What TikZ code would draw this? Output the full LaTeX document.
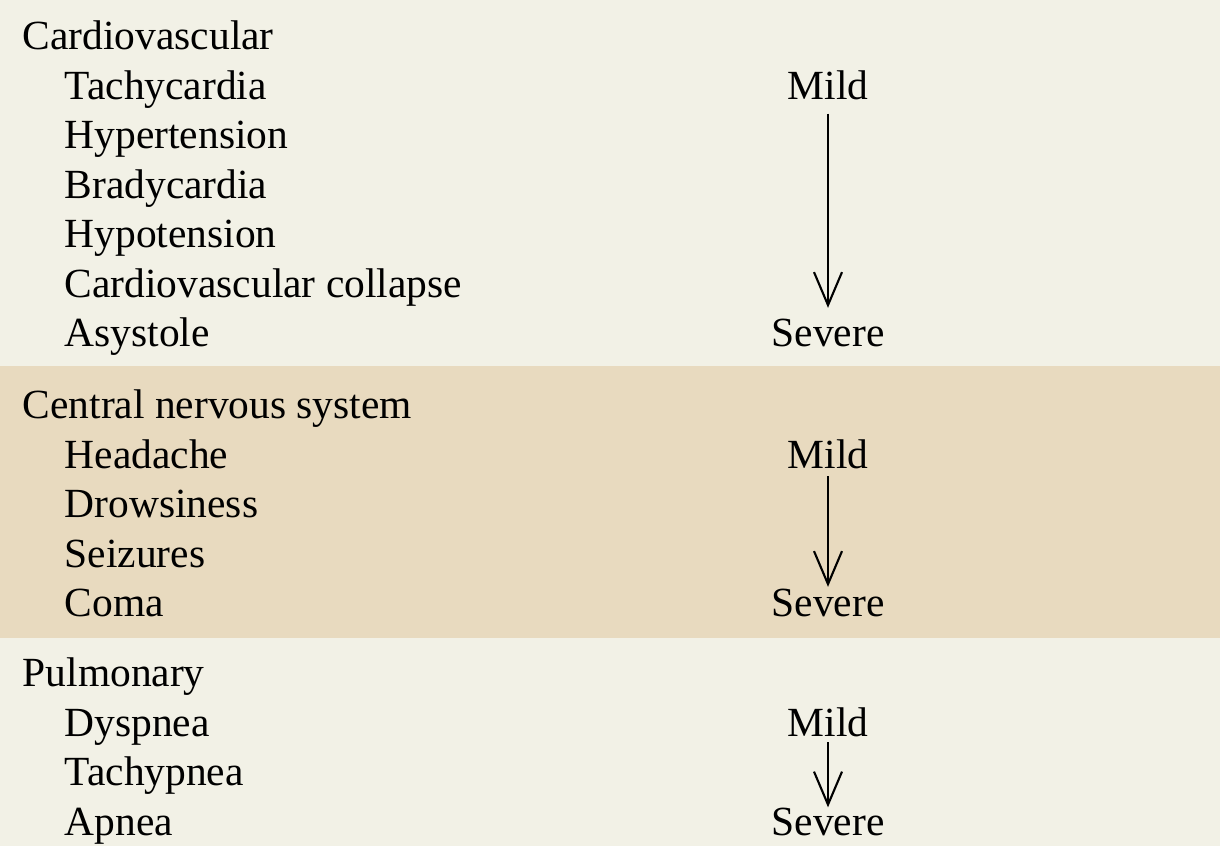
\documentclass[tikz,border=0pt]{standalone}
\usepackage{fontspec}
\setmainfont{Liberation Serif}
\usepackage{tikz}
\usetikzlibrary{arrows.meta}

\definecolor{paleband}{RGB}{242,241,230}
\definecolor{tanband}{RGB}{232,218,191}

\begin{document}
\begin{tikzpicture}[x=0.1mm, y=-0.1mm, >={Straight Barb[length=3.3mm,width=2.8mm]},
    every node/.style={inner sep=0pt, font=\fontsize{11.8pt}{14pt}\selectfont},
    group/.style={anchor=base west},
    sign/.style={anchor=base west},
    grade/.style={anchor=base}]

\useasboundingbox (0,0) rectangle (1220,846);
\fill[paleband](0,0) rectangle (1220,366);
\fill[tanband](0,366) rectangle (1220,638);
\fill[paleband](0,638) rectangle (1220,846);

\draw
    node at(22,50)[group,name=cardio]{Cardiovascular}
    node at(64,99.5)[sign,name=tachy]{Tachycardia}
    node at(64,149)[sign,name=hyper]{Hypertension}
    node at(64,198.5)[sign,name=brady]{Bradycardia}
    node at(64,248)[sign,name=hypo]{Hypotension}
    node at(64,297.5)[sign,name=collapse]{Cardiovascular collapse}
    node at(64,347)[sign,name=asys]{Asystole}

    node at(828,99.5)[grade,name=cmild]{Mild}
    node at(828,347)[grade,name=csevere]{Severe}

    node at(22,419)[group,name=cns]{Central nervous system}
    node at(64,468.5)[sign,name=head]{Headache}
    node at(64,518)[sign,name=drowsy]{Drowsiness}
    node at(64,567.5)[sign,name=seiz]{Seizures}
    node at(64,617)[sign,name=coma]{Coma}

    node at(828,468.5)[grade,name=nmild]{Mild}
    node at(828,617)[grade,name=nsevere]{Severe}

    node at(22,687)[group,name=pulm]{Pulmonary}
    node at(64,736.5)[sign,name=dysp]{Dyspnea}
    node at(64,786)[sign,name=tachyp]{Tachypnea}
    node at(64,835.5)[sign,name=apnea]{Apnea}

    node at(828,736.5)[grade,name=pmild]{Mild}
    node at(828,835.5)[grade,name=psevere]{Severe}
;
    \draw[->, line width=0.6pt, shorten <=1.3mm, shorten >=1.1mm](cmild) -- (csevere);
    \draw[->, line width=0.6pt, shorten <=0.65mm, shorten >=0.2mm](nmild) -- (nsevere);
    \draw[->, line width=0.6pt, shorten <=0.45mm](pmild) -- (psevere);

\end{tikzpicture}
\end{document}
